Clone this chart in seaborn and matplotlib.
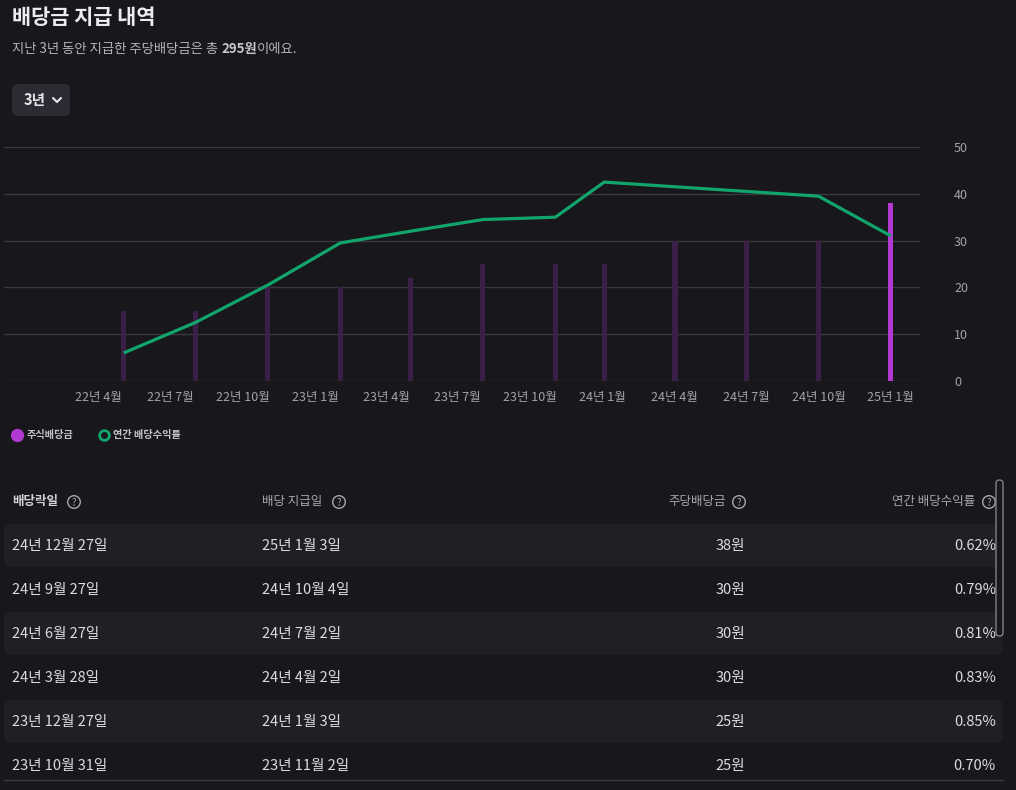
import matplotlib
matplotlib.use("Agg")
import matplotlib.pyplot as plt
from matplotlib.patches import FancyBboxPatch, Circle
import seaborn as sns
import pandas as pd

# ---------------- data ----------------
pay_dates = ["2022-05-03", "2022-08-02", "2022-11-02", "2023-02-02", "2023-05-02",
             "2023-08-02", "2023-11-02", "2024-01-03", "2024-04-02", "2024-07-02",
             "2024-10-01", "2025-01-01"]
dividends = [15, 15, 20, 20, 22, 25, 25, 25, 30, 30, 30, 38]
yields_pct = [0.12, 0.25, 0.41, 0.59, 0.64, 0.69, 0.70, 0.85, 0.83, 0.81, 0.79, 0.62]

tick_dates = ["2022-04-01", "2022-07-01", "2022-10-01", "2023-01-01", "2023-04-01",
              "2023-07-01", "2023-10-01", "2024-01-01", "2024-04-01", "2024-07-01",
              "2024-10-01", "2025-01-01"]
tick_labels = ["22년 4월", "22년 7월", "22년 10월", "23년 1월", "23년 4월", "23년 7월",
               "23년 10월", "24년 1월", "24년 4월", "24년 7월", "24년 10월", "25년 1월"]
y_ticks = [0, 10, 20, 30, 40, 50]

table_ex_dates = ["24년 12월 27일", "24년 9월 27일", "24년 6월 27일", "24년 3월 28일",
                  "23년 12월 27일", "23년 10월 31일"]
table_pay_dates = ["25년 1월 3일", "24년 10월 4일", "24년 7월 2일", "24년 4월 2일",
                   "24년 1월 3일", "23년 11월 2일"]
table_headers = ["배당락일", "배당 지급일", "주당배당금", "연간 배당수익률"]
legend_labels = ["주식배당금", "연간 배당수익률"]
title_text = "배당금 지급 내역"
period_label = "3년"

# ---------------- style ----------------
BG = "#18181c"
GRID = "#38383e"
TICK = "#a2a2a8"
GREEN = "#12a56b"
PURPLE = "#b23ad3"
PURPLE_DIM = "#3a1f47"
ROWBG = "#1f2026"
TXT = "#dcdcdf"

sns.set_theme(style="dark", rc={"figure.facecolor": BG, "axes.facecolor": BG,
                                 "savefig.facecolor": BG})
plt.rcParams["font.family"] = ["Noto Sans CJK KR", "DejaVu Sans"]

W, H = 1016, 790
fig = plt.figure(figsize=(W / 100, H / 100), dpi=100, facecolor=BG)

# overlay in pixel coordinates for the page furniture
ov = fig.add_axes([0, 0, 1, 1], zorder=0)
ov.set_xlim(0, W)
ov.set_ylim(H, 0)
ov.axis("off")

# ---------------- chart ----------------
ax = fig.add_axes([4 / W, 1 - 381 / H, (920 - 4) / W, (381 - 147) / H], zorder=1)
ax.patch.set_alpha(0)
x_dates = pd.to_datetime(pay_dates)
bar_colors = [PURPLE_DIM] * (len(dividends) - 1) + [PURPLE]
ax.bar(x_dates, dividends, width=6.5, color=bar_colors, linewidth=0, edgecolor="none",
       zorder=2)

ax2 = ax.twinx()
sns.lineplot(x=x_dates, y=yields_pct, ax=ax2, color=GREEN, lw=2.3,
             solid_joinstyle="round", solid_capstyle="butt")
ax2.set_ylim(0, 1.0)
ax2.axis("off")

ax.set_xlim(pd.Timestamp("2021-12-02"), pd.Timestamp("2025-02-07"))
ax.set_ylim(0, 50)
ax.set_yticks(y_ticks)
ax.yaxis.tick_right()
ax.set_xticks(pd.to_datetime(tick_dates))
ax.set_xticklabels(tick_labels)
ax.tick_params(axis="y", length=0, pad=24.5, labelsize=9, labelcolor=TICK)
ax.tick_params(axis="x", length=0, pad=7, labelsize=9, labelcolor=TICK)
ax.grid(axis="y", color=GRID, lw=1)
ax.grid(axis="x", visible=False)
ax.set_axisbelow(True)
for s in ax.spines.values():
    s.set_visible(False)
ax.set_xlabel("")
ax.set_ylabel("")

# ---------------- header texts ----------------
ov.text(12, 17, title_text, fontsize=15, fontweight="bold", color="#ececee",
        va="center", ha="left")
t1 = ov.text(12, 49, "지난 3년 동안 지급한 주당배당금은 총 ", fontsize=9.6,
             color="#b4b4b8", va="center", ha="left")
t2 = ov.annotate(f"{sum(dividends)}원", xy=(1, 0), xycoords=t1, va="bottom", ha="left",
                 fontsize=9.6, fontweight="bold", color="#c8c8cc")
ov.annotate("이에요.", xy=(1, 0), xycoords=t2, va="bottom", ha="left",
            fontsize=9.6, color="#b4b4b8")

# period button
ov.add_patch(FancyBboxPatch((12, 84), 58, 32, boxstyle="round,pad=0,rounding_size=6",
                            fc="#2b2c33", ec="none"))
ov.text(24, 100, period_label, fontsize=10.5, fontweight="bold", color="#e6e6e8",
        va="center", ha="left")
ov.plot([53, 57, 61], [98, 102, 98], color="#e6e6e8", lw=1.5, solid_capstyle="round")

# ---------------- legend ----------------
ov.plot([17], [435], "o", ms=8.5, color=PURPLE, mec=PURPLE)
ov.text(27, 435, legend_labels[0], fontsize=7.3, fontweight="bold", color="#c4c4c8",
        va="center", ha="left")
ov.plot([104], [435], "o", ms=7, mfc="none", mec=GREEN, mew=2)
ov.text(113, 435, legend_labels[1], fontsize=7.3, fontweight="bold", color="#c4c4c8",
        va="center", ha="left")

# ---------------- table ----------------
header_y = 502
row_y = [545, 589, 633, 677, 721, 765]
HDR = "#a6a6ac"


def qicon(cx, cy):
    ov.add_patch(Circle((cx, cy), 6.3, fc="none", ec=HDR, lw=1))
    ov.text(cx, cy + 0.5, "?", fontsize=7, color=HDR, ha="center", va="center")


ov.text(12, header_y, table_headers[0], fontsize=9, fontweight="bold", color="#d2d2d6",
        va="center", ha="left")
qicon(74, header_y)
ov.text(262, header_y, table_headers[1], fontsize=9, color=HDR, va="center", ha="left")
qicon(339, header_y)
ov.text(726, header_y, table_headers[2], fontsize=9, color=HDR, va="center", ha="right")
qicon(739, header_y)
ov.text(975, header_y, table_headers[3], fontsize=9, color=HDR, va="center", ha="right")
qicon(989, header_y)

per_share = dividends[::-1][:len(row_y)]
row_yields = yields_pct[::-1][:len(row_y)]
for i, y in enumerate(row_y):
    if i % 2 == 0:
        ov.add_patch(FancyBboxPatch((4, y - 21), 999, 43,
                                    boxstyle="round,pad=0,rounding_size=7",
                                    fc=ROWBG, ec="none", zorder=0.5))
    ty = y + 1
    ov.text(12, ty, table_ex_dates[i], fontsize=10.5, color=TXT, va="center", ha="left")
    ov.text(262, ty, table_pay_dates[i], fontsize=10.5, color=TXT, va="center", ha="left")
    ov.text(745, ty, f"{per_share[i]}원", fontsize=10.5, color=TXT, va="center", ha="right")
    ov.text(996, ty, f"{row_yields[i]:.2f}%", fontsize=10.5, color=TXT, va="center",
            ha="right")

ov.plot([4, 1003], [780, 780], color="#3c3c42", lw=1)

# scrollbar
ov.add_patch(FancyBboxPatch((996, 480), 7, 156, boxstyle="round,pad=0,rounding_size=3.5",
                            fc=BG, ec="#8c8c92", lw=0.9, zorder=3))

fig.savefig("out.png", dpi=100, facecolor=BG)
